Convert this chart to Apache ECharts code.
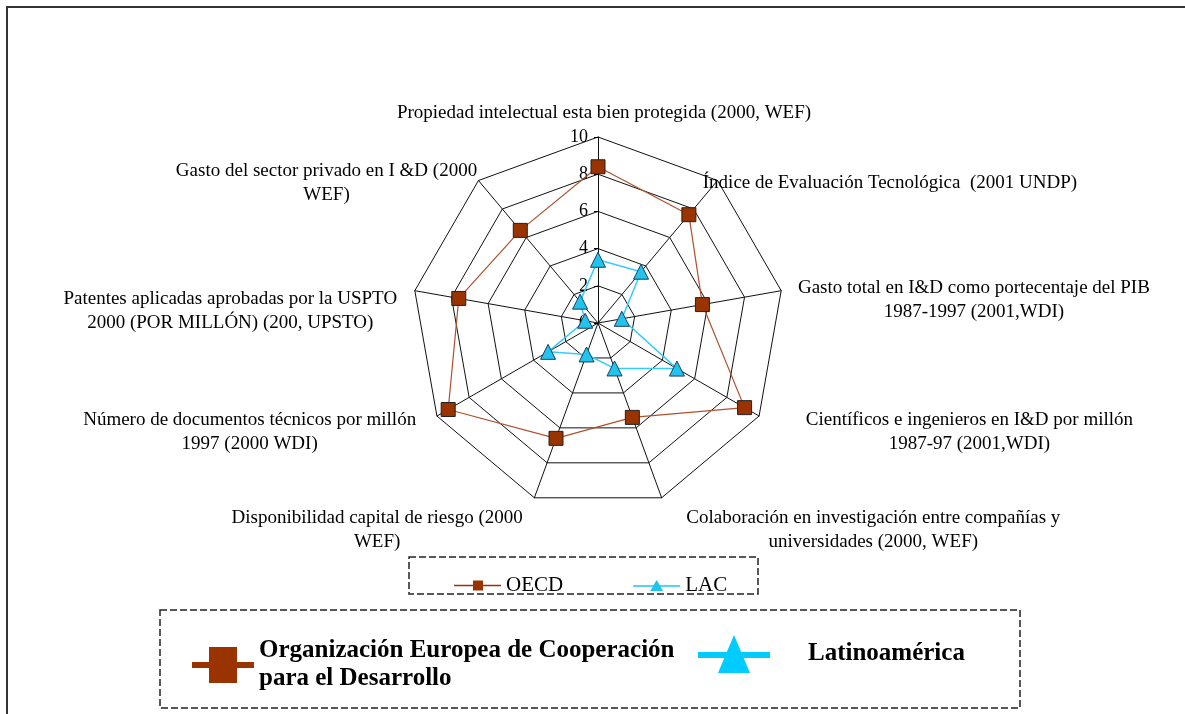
<!DOCTYPE html>
<html lang="es">
<head>
    <meta charset="UTF-8">
    <title>Radar OECD / LAC</title>
    <script type="text/javascript" src="https://cdn.jsdelivr.net/npm/echarts@6/dist/echarts.min.js"></script>
    <style>
        body { margin: 0; background: #fff; }
    </style>
</head>
<body>
<div id="main" style="width: 1185px; height: 714px"></div>

<script type="text/javascript">
    var myChart = echarts.init(document.getElementById('main'));

    // indicadores (de arriba, en sentido horario)
    var indicadores = [
        'Propiedad intelectual esta bien protegida (2000, WEF)',
        'Índice de Evaluación Tecnológica  (2001 UNDP)',
        'Gasto total en I&D como portecentaje del PIB\n1987-1997 (2001,WDI)',
        'Científicos e ingenieros en I&D por millón\n1987-97 (2001,WDI)',
        'Colaboración en investigación entre compañías y\nuniversidades (2000, WEF)',
        'Disponibilidad capital de riesgo (2000\nWEF)',
        'Número de documentos técnicos por millón\n1997 (2000 WDI)',
        'Patentes aplicadas aprobadas por la USPTO\n2000 (POR MILLÓN) (200, UPSTO)',
        'Gasto del sector privado en I &D (2000\nWEF)'
    ];
    var valorMax = 10;

    // valores (mismo orden que los indicadores)
    var oecd = [8.4, 7.6, 5.7, 9.1, 5.4, 6.6, 9.3, 7.6, 6.5];
    var lac = [3.4, 3.6, 1.3, 4.9, 2.6, 1.8, 3.1, 0.7, 1.5];

    var nombreOecd = 'OECD';
    var nombreLac = 'LAC';
    var leyendaOecd = 'Organización Europea de Cooperación\npara el Desarrollo';
    var leyendaLac = 'Latinoamérica';

    // ajuste de la posicion de cada nombre (gap, padding)
    var gaps = [12, -23, 17, 54, 34, 34, 24, 18, 2];
    var pads = [
        [0, 0, 0, 12], [0, 0, 30, 0], [24, 0, 0, 0], [0, 0, 22, 0],
        [0, 0, 0, 13], [0, 0, 0, 0], [8, 0, 0, 0], [46, 0, 0, 0], [8, 0, 0, 0]
    ];

    var serif = '"Liberation Serif", "Times New Roman", serif';

    // echarts dibuja el radar en sentido antihorario: se invierte el orden
    var orden = [0];
    for (var k = indicadores.length - 1; k >= 1; k--) orden.push(k);

    var indicator = [];
    var valoresOecd = [];
    var valoresLac = [];
    for (var j = 0; j < orden.length; j++) {
        var i = orden[j];
        var ind = {
            name: indicadores[i],
            min: 0,
            max: valorMax,
            nameGap: gaps[i],
            nameTextStyle: { padding: pads[i] }
        };
        if (i === 0) {
            ind.axisLabel = { show: true, fontSize: 18, fontFamily: serif, color: '#000', margin: 10, padding: [8, 0, 0, 0] };
            ind.axisTick = { show: true, length: 4, lineStyle: { color: '#000' } };
        }
        indicator.push(ind);
        valoresOecd.push(oecd[i]);
        valoresLac.push(lac[i]);
    }

    var iconOecdPeq = 'path://M0,5.2H19V1H29V5.2H47V6.8H29V11H19V6.8H0Z';
    var iconLacPeq = 'path://M0,5.2H20.25L23.5,0L26.75,5.2H47V6.8H27.34L30,11H17L19.66,6.8H0Z';
    var iconOecdGr = 'path://M0,15H17V0H45V15H62V21H45V36H17V21H0Z';
    var iconLacGr = 'path://M0,17H28.84L36,0L43.16,17H72V23H45.68L52,38H20L26.32,23H0Z';

    option = {
        backgroundColor: '#fff',
        animation: false,
        radar: {
            center: [598, 323],
            radius: 186,
            startAngle: 90,
            splitNumber: 5,
            shape: 'polygon',
            indicator: indicator,
            axisName: {
                color: '#000',
                fontFamily: serif,
                fontSize: 19,
                lineHeight: 24,
                formatter: function (nombre) {
                    return nombre.split('\n').map(function (l) { return '{c|' + l + '}'; }).join('\n');
                },
                rich: {
                    c: { align: 'center', fontFamily: serif, fontSize: 19, lineHeight: 24, color: '#000' }
                }
            },
            axisLine: { lineStyle: { color: '#111', width: 1 } },
            splitLine: { lineStyle: { color: '#111', width: 1 } },
            splitArea: { show: false },
            axisLabel: { show: false },
            axisTick: { show: false }
        },
        legend: [
            {
                left: 449,
                top: 570,
                itemWidth: 47,
                itemHeight: 12,
                itemGap: 70,
                selectedMode: false,
                data: [
                    { name: nombreOecd, icon: iconOecdPeq },
                    { name: nombreLac, icon: iconLacPeq }
                ],
                itemStyle: { borderWidth: 0 },
                textStyle: { fontFamily: serif, fontSize: 21, color: '#000' }
            },
            {
                left: 187,
                top: 632,
                itemWidth: 62,
                itemHeight: 36,
                selectedMode: false,
                data: [{ name: nombreOecd, icon: iconOecdGr }],
                itemStyle: { borderWidth: 0, color: '#993300' },
                formatter: function () { return leyendaOecd; },
                textStyle: { fontFamily: serif, fontSize: 25, fontWeight: 'bold', lineHeight: 28, color: '#000' }
            },
            {
                left: 693,
                top: 630,
                itemWidth: 72,
                itemHeight: 38,
                selectedMode: false,
                data: [{ name: nombreLac, icon: iconLacGr }],
                itemStyle: { borderWidth: 0, color: '#00ccff' },
                formatter: function () { return leyendaLac; },
                textStyle: { fontFamily: serif, fontSize: 25, fontWeight: 'bold', color: '#000', padding: [0, 0, 18, 33] }
            }
        ],
        graphic: [
            {
                type: 'rect',
                shape: { x: 7, y: 7, width: 1300, height: 900 },
                style: { fill: 'none', stroke: '#333', lineWidth: 2 },
                silent: true
            },
            {
                type: 'rect',
                shape: { x: 409, y: 557, width: 349, height: 37 },
                style: { fill: 'none', stroke: '#222', lineWidth: 1.5, lineDash: [7, 3] },
                silent: true
            },
            {
                type: 'rect',
                shape: { x: 160, y: 610, width: 860, height: 98 },
                style: { fill: 'none', stroke: '#222', lineWidth: 1.5, lineDash: [7, 3] },
                silent: true
            }
        ],
        series: [{
            type: 'radar',
            data: [
                {
                    name: nombreOecd,
                    value: valoresOecd,
                    symbol: 'rect',
                    symbolSize: 14,
                    lineStyle: { color: '#b0502e', width: 1.2 },
                    itemStyle: { color: '#993300', borderColor: '#222', borderWidth: 1 }
                },
                {
                    name: nombreLac,
                    value: valoresLac,
                    symbol: 'triangle',
                    symbolSize: 15,
                    lineStyle: { color: '#33ccff', width: 1.5 },
                    itemStyle: { color: '#22c4ee', borderColor: '#1c3f5f', borderWidth: 1 }
                }
            ]
        }]
    };

    myChart.setOption(option);
</script>
</body>
</html>
